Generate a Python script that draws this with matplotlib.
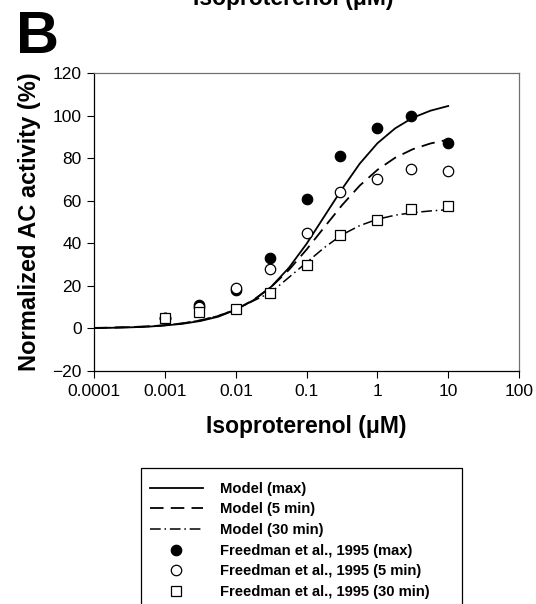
import matplotlib
matplotlib.use("Agg")
import matplotlib.pyplot as plt
from matplotlib.patches import Rectangle

plt.rcParams['font.family'] = ['Liberation Sans', 'DejaVu Sans']

model_x = [1e-4, 1.78e-4, 3.16e-4, 5.62e-4, 1e-3, 1.78e-3, 3.16e-3, 5.62e-3,
           1e-2, 1.78e-2, 3.16e-2, 5.62e-2, 0.1, 0.178, 0.316, 0.562,
           1.0, 1.78, 3.16, 5.62, 10.0]
model_max = [0.2, 0.3, 0.5, 0.8, 1.4, 2.2, 3.5, 5.5, 8.8, 13.3, 19.6, 28.5,
             39.8, 52.7, 65.5, 77.4, 87.0, 94.0, 99.0, 102.3, 104.5]
model_5 = [0.25, 0.4, 0.6, 1.0, 1.5, 2.4, 3.8, 5.8, 8.9, 13.4, 19.5, 27.5,
           37.1, 47.6, 57.9, 67.1, 74.5, 80.2, 84.2, 86.9, 88.7]
model_30 = [0.2, 0.4, 0.6, 0.9, 1.5, 2.4, 3.8, 5.9, 9.0, 13.0, 17.0, 24.0,
            31.0, 38.0, 44.0, 48.3, 51.3, 53.2, 54.4, 55.2, 55.8]

# Freedman et al., 1995
conc = [0.001, 0.003, 0.01, 0.03, 0.1, 0.3, 1, 3, 10]
act_max = [5, 11, 18, 33, 61, 81, 94, 100, 87]
act_5 = [5, 10, 19, 28, 45, 64, 70, 75, 74]
act_30 = [5, 7.5, 9, 16.5, 30, 44, 51, 56, 57.5]

fig = plt.figure(figsize=(5.36, 6.04), dpi=100)
ax = fig.add_axes([94.3 / 536, 1 - 371 / 604, (519 - 94.3) / 536, (371 - 73) / 604])

ax.plot(model_x, model_max, color='black', lw=1.3, ls='-', label='Model (max)')
ax.plot(model_x, model_5, color='black', lw=1.3, ls=(0, (7.5, 4)), label='Model (5 min)')
ax.plot(model_x, model_30, color='black', lw=1.1, ls=(0, (7, 2.5, 1, 2.5)), label='Model (30 min)')

ax.plot(conc, act_max, 'o', color='black', ms=7.5, mec='black', mew=0.9,
        label='Freedman et al., 1995 (max)')
ax.plot(conc, act_5, 'o', mfc='white', mec='black', ms=7.5, mew=0.9,
        label='Freedman et al., 1995 (5 min)')
ax.plot(conc, act_30, 's', mfc='white', mec='black', ms=7.5, mew=0.9,
        label='Freedman et al., 1995 (30 min)')

ax.set_xscale('log')
ax.set_xlim(1e-4, 100)
ax.set_ylim(-20, 120)
ax.set_xticks([1e-4, 1e-3, 1e-2, 1e-1, 1, 10, 100])
ax.set_xticklabels(['0.0001', '0.001', '0.01', '0.1', '1', '10', '100'])
ax.minorticks_off()
ax.set_yticks(range(-20, 121, 20))
ax.tick_params(direction='out', length=5, width=0.8, labelsize=12.5, pad=4)

for s in ['top', 'right']:
    ax.spines[s].set_color('#707070')
    ax.spines[s].set_linewidth(0.9)
for s in ['left', 'bottom']:
    ax.spines[s].set_linewidth(0.9)

ax.set_xlabel('Isoproterenol (\u03bcM)', fontsize=16.5, fontweight='bold', labelpad=12)
ax.set_ylabel('Normalized AC activity (%)', fontsize=17, fontweight='bold', labelpad=8)

# top title of the panel below, cut off by the frame
fig.text(293 / 536, 1 - 5 / 604, 'Isoproterenol (\u03bcM)', ha='center', va='baseline',
         fontsize=16.5, fontweight='bold')
fig.text(16 / 536, 1 - 53 / 604, 'B', fontsize=43, fontweight='bold', va='baseline')

# legend
fig.patches.append(Rectangle((141 / 536, 1 - 612 / 604), (462 - 141) / 536, (612 - 468) / 604,
                             transform=fig.transFigure, fill=False, edgecolor='black', lw=0.9))
handles, labels = ax.get_legend_handles_labels()
leg = fig.legend(handles, labels, loc='upper left', bbox_to_anchor=(138 / 536, 1 - 470 / 604),
                 frameon=False, prop={'size': 10.6, 'weight': 'bold'},
                 handlelength=3.6, handletextpad=1.2, labelspacing=0.45, borderpad=0.3)

plt.savefig("out.png", dpi=100)
